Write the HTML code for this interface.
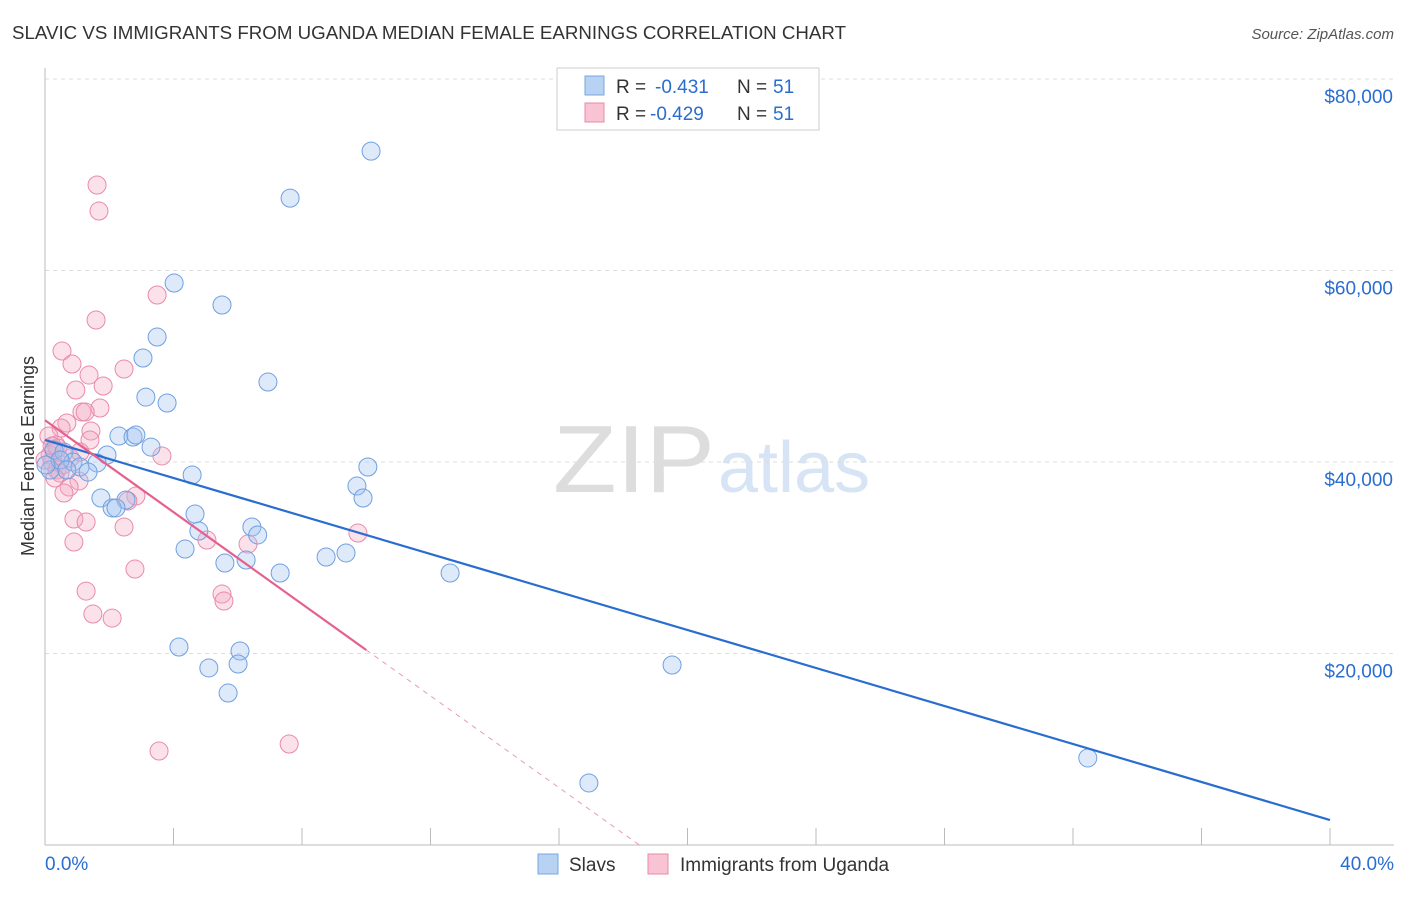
<!DOCTYPE html>
<html><head><meta charset="utf-8"><style>
body{margin:0;background:#fff;font-family:"Liberation Sans",sans-serif;}
svg text{font-family:"Liberation Sans",sans-serif;}
</style></head><body>
<svg id="chart" width="1406" height="892">
<text x="12" y="39" font-size="18" fill="#333" textLength="834" lengthAdjust="spacingAndGlyphs">SLAVIC VS IMMIGRANTS FROM UGANDA MEDIAN FEMALE EARNINGS CORRELATION CHART</text>
<text x="1394" y="39" font-size="15" fill="#555" text-anchor="end" font-style="italic">Source: ZipAtlas.com</text>
<text x="34" y="456" font-size="18" fill="#333" text-anchor="middle" transform="rotate(-90 34 456)">Median Female Earnings</text>
<text x="553" y="492" font-size="96" fill="#ddd" font-family="Liberation Serif" textLength="162" lengthAdjust="spacingAndGlyphs">ZIP</text>
<text x="718" y="492" font-size="72" fill="#d6e4f5">atlas</text>
<g id="grid"></g><g id="pts"></g><g id="lines"></g>
<g>
<rect x="557" y="68" width="262" height="62" fill="#fff" stroke="#ccc"/>
<rect x="585" y="76" width="19" height="19" fill="#b7d2f3" stroke="#7aa7e0"/>
<text x="616" y="93" font-size="19" fill="#333">R =</text>
<text x="655" y="93" font-size="19" fill="#2a6dd0">-0.431</text>
<text x="737" y="93" font-size="19" fill="#333">N =</text>
<text x="773" y="93" font-size="19" fill="#2a6dd0">51</text>
<rect x="585" y="103" width="19" height="19" fill="#f8c3d3" stroke="#ea8aaa"/>
<text x="616" y="120" font-size="19" fill="#333">R =</text>
<text x="650" y="120" font-size="19" fill="#2a6dd0">-0.429</text>
<text x="737" y="120" font-size="19" fill="#333">N =</text>
<text x="773" y="120" font-size="19" fill="#2a6dd0">51</text>
</g>
<g>
<rect x="538" y="854" width="20" height="20" fill="#b7d2f3" stroke="#7aa7e0"/>
<text x="569" y="871" font-size="19" fill="#333">Slavs</text>
<rect x="648" y="854" width="20" height="20" fill="#f8c3d3" stroke="#ea8aaa"/>
<text x="680" y="871" font-size="19" fill="#333">Immigrants from Uganda</text>
</g>
</svg>
<script>
const yTicks=[20000,40000,60000,80000];
const yTickLabels=["$20,000","$40,000","$60,000","$80,000"];
const xEndLabels=["0.0%","40.0%"];
const slavX=[10.15,7.63,4.02,5.51,3.49,3.05,6.94,3.14,3.80,2.30,2.74,2.83,3.30,1.93,0.28,0.59,0.87,1.09,1.62,1.34,0.16,0.47,4.58,10.05,9.71,9.90,1.74,2.52,2.09,2.21,4.67,4.79,6.44,6.62,4.36,6.26,5.60,8.75,9.37,7.32,12.61,4.17,5.10,6.07,6.01,5.70,19.52,32.46,16.93,0.03,0.68];
const slavY=[72470,67560,58690,56400,53050,50860,48350,46780,46160,42710,42610,42820,41560,40730,41250,41040,40000,39480,39900,38950,39160,40210,38640,39480,37490,36240,36240,36030,35200,35200,34570,32790,33210,32380,30910,29760,29450,30080,30500,28410,28410,20680,18490,20260,18900,15870,18800,9090,6480,39690,39160];
const ugX=[1.62,1.68,3.49,1.59,0.53,0.84,1.37,2.46,1.81,0.96,1.71,1.15,1.25,0.68,0.50,1.43,1.40,0.12,0.34,3.64,0.16,0.22,0.37,0.56,1.06,0.75,0.59,2.83,2.58,0.90,1.28,2.46,9.74,5.04,0.90,6.32,2.80,1.28,5.51,5.57,1.49,2.09,3.55,7.60,0.40,0,0.47,0.22,0.78,0.31,1.09];
const ugY=[68930,66210,57440,54830,51590,50230,49080,49710,47940,47520,45640,45220,45220,44070,43550,43240,42300,42720,41780,40630,40730,40000,39160,39690,38020,37390,36760,36450,35930,34050,33730,33210,32580,31850,31640,31430,28820,26520,26210,25480,24120,23700,9820,10550,41460,40210,38850,41670,40420,38330,41040];
const slavLine=[[0,42300],[40,2610]];
const ugLineSolid=[[0,44360],[10,20370]];
const ugLineDash=[[10,20370],[18.5,0]];
const NS="http://www.w3.org/2000/svg";
const sx=v=>45+v/40*1285, sy=v=>845-v/20000*191.5;
function mk(t,a,p){const e=document.createElementNS(NS,t);for(const k in a)e.setAttribute(k,a[k]);p.appendChild(e);return e;}
const grid=document.getElementById('grid'),pts=document.getElementById('pts'),lines=document.getElementById('lines');
yTicks.forEach((t,i)=>{
 const l=mk('line',{x1:45,x2:1394,y1:sy(t),y2:sy(t),stroke:'#ddd','stroke-dasharray':'4,4'},grid);
 
 
 const tx=mk('text',{x:1393,y:sy(t)+24,'font-size':19,fill:'#2a6dd0','text-anchor':'end'},grid);tx.textContent=yTickLabels[i];
 
 
});
mk('line',{x1:45,x2:45,y1:68,y2:845,stroke:'#bbb'},grid);
mk('line',{x1:45,x2:1394,y1:845,y2:845,stroke:'#bbb'},grid);
for(let i=1;i<=10;i++){const x=sx(i*4);const t=mk('line',{x1:x,x2:x,y1:828,y2:845,stroke:'#bbb'},grid);
 
 }
const xl0=mk('text',{x:45,y:870,'font-size':19,fill:'#2a6dd0'},grid);xl0.textContent=xEndLabels[0];


const xl1=mk('text',{x:1394,y:870,'font-size':19,fill:'#2a6dd0','text-anchor':'end'},grid);xl1.textContent=xEndLabels[1];


ugX.forEach((x,i)=>{const c=mk('circle',{cx:sx(x),cy:sy(ugY[i]),r:9,fill:'rgba(244,170,195,0.35)',stroke:'#ea8aaa','stroke-width':1},pts);
 
 });
slavX.forEach((x,i)=>{const c=mk('circle',{cx:sx(x),cy:sy(slavY[i]),r:9,fill:'rgba(160,195,240,0.35)',stroke:'#6fa0e0','stroke-width':1},pts);
 
 });
const bl=mk('line',{x1:sx(slavLine[0][0]),y1:sy(slavLine[0][1]),x2:sx(slavLine[1][0]),y2:sy(slavLine[1][1]),stroke:'#2a6dd0','stroke-width':2.2},lines);


const pl=mk('line',{x1:sx(ugLineSolid[0][0]),y1:sy(ugLineSolid[0][1]),x2:sx(ugLineSolid[1][0]),y2:sy(ugLineSolid[1][1]),stroke:'#e5608e','stroke-width':2.2},lines);


const pd=mk('line',{x1:sx(ugLineDash[0][0]),y1:sy(ugLineDash[0][1]),x2:sx(ugLineDash[1][0]),y2:sy(ugLineDash[1][1]),stroke:'#e89ab5','stroke-width':1,'stroke-dasharray':'5,5'},lines);


</script>
</body></html>
